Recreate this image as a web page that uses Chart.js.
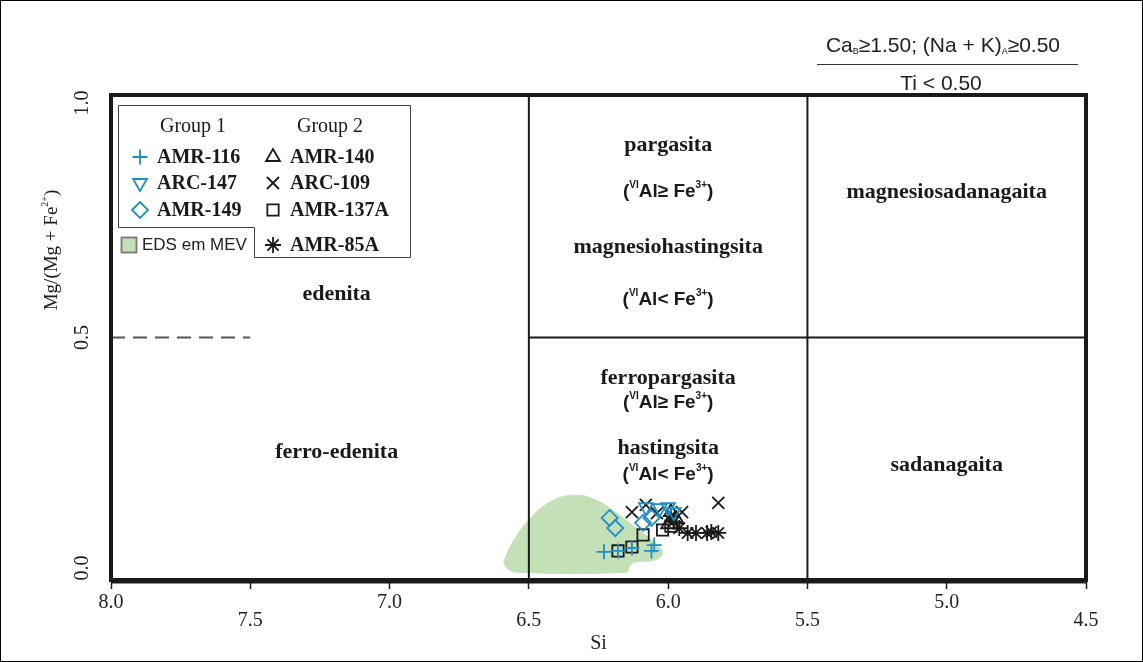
<!DOCTYPE html>
<html>
<head>
<meta charset="utf-8">
<title>Classificação de anfibólios cálcicos</title>
<script src="https://cdn.jsdelivr.net/npm/chart.js@4.4.1/dist/chart.umd.min.js"></script>
<style>
  html, body { margin: 0; padding: 0; background: #fff; }
  canvas { display: block; }
</style>
</head>
<body>
<canvas id="amphibole" width="1143" height="662"></canvas>
<script>
// axis ticks
const siTicks = [8.0, 7.5, 7.0, 6.5, 6.0, 5.5, 5.0, 4.5];
const mgTicks = [0.0, 0.5, 1.0];

// field boundaries
const siBoundaries = [6.5, 5.5];
const mgBoundary = 0.5;
const dashedSiEnd = 7.5;

// samples: [Si, Mg/(Mg + Fe2+)]
const amr116 = [[6.23, 0.058], [6.18, 0.060], [6.13, 0.066], [6.06, 0.060], [6.05, 0.072]];
const arc147 = [[6.08, 0.150], [6.03, 0.148], [6.00, 0.150], [5.98, 0.140]];
const amr149 = [[6.21, 0.128], [6.19, 0.107], [6.09, 0.118], [6.06, 0.128]];
const amr140 = [[5.99, 0.140], [5.97, 0.125], [6.00, 0.115]];
const arc109 = [[6.13, 0.140], [6.08, 0.155], [6.04, 0.138], [5.95, 0.140], [5.82, 0.159]];
const amr137a = [[6.18, 0.060], [6.13, 0.068], [6.09, 0.093], [6.02, 0.103], [5.99, 0.111]];
const amr85a = [[5.99, 0.132], [5.98, 0.120], [5.96, 0.107], [5.93, 0.097], [5.90, 0.097], [5.86, 0.097], [5.845, 0.099], [5.82, 0.097]];

// EDS (MEV) field outline
const edsSi = [6.59, 6.56, 6.49, 6.41, 6.33, 6.26, 6.19, 6.12, 6.05, 6.02, 6.05, 6.12, 6.14, 6.15, 6.54, 6.58, 6.59];
const edsMg = [0.037, 0.076, 0.130, 0.165, 0.175, 0.165, 0.140, 0.109, 0.078, 0.056, 0.041, 0.037, 0.027, 0.016, 0.016, 0.025, 0.037];

const serif = "'Liberation Serif', 'Times New Roman', serif";
const sans = "'Liberation Sans', Arial, sans-serif";
const blue = '#1f8fc8';
const ink = '#1a1a1a';
const green = '#c4e0b6';

function pts(arr) {
    return arr.map(p => ({x: p[0], y: p[1]}));
}

function sample(label, arr, color, style, radius, rotation) {
    return {
        label: label,
        data: pts(arr),
        order: 0,
        pointStyle: style,
        pointRadius: radius,
        pointRotation: rotation || 0,
        pointBorderColor: color,
        pointBackgroundColor: 'rgba(0,0,0,0)',
        pointBorderWidth: 1.8,
        showLine: false
    };
}

function boundary(data, dash, color) {
    return {
        data: data,
        order: 5,
        showLine: true,
        borderColor: color || ink,
        borderWidth: 2,
        borderDash: dash || [],
        pointRadius: 0
    };
}

// higher order is drawn underneath
const datasets = [
    {
        label: 'EDS em MEV',
        data: edsSi.map((s, i) => ({x: s, y: edsMg[i]})),
        order: 10,
        showLine: true,
        tension: 0.4,
        borderColor: green,
        borderWidth: 1,
        backgroundColor: green,
        fill: 'shape',
        pointRadius: 0
    }
];
siBoundaries.forEach(v => datasets.push(boundary([{x: v, y: 0}, {x: v, y: 1}])));
datasets.push(boundary([{x: siBoundaries[0], y: mgBoundary}, {x: 4.5, y: mgBoundary}]));
datasets.push(boundary([{x: 8.0, y: mgBoundary}, {x: dashedSiEnd, y: mgBoundary}], [14, 8], '#555'));

const samples = [
    sample('AMR-116', amr116, blue, 'cross', 7.5),
    sample('ARC-147', arc147, blue, 'triangle', 8, 180),
    sample('AMR-149', amr149, blue, 'rectRot', 8),
    sample('AMR-140', amr140, ink, 'triangle', 8),
    sample('ARC-109', arc109, ink, 'crossRot', 8.5),
    sample('AMR-137A', amr137a, ink, 'rect', 8),
    sample('AMR-85A', amr85a, ink, 'star', 8)
];
samples.forEach(s => datasets.push(s));

// text with super/subscripts, parts = [text, font, dy]
function richText(ctx, parts, x, y, align) {
    let w = 0;
    parts.forEach(p => { ctx.font = p[1]; w += ctx.measureText(p[0]).width; });
    let cx = align === 'left' ? x : x - w / 2;
    ctx.textAlign = 'left';
    ctx.textBaseline = 'middle';
    parts.forEach(p => {
        ctx.font = p[1];
        ctx.fillText(p[0], cx, y + (p[2] || 0));
        cx += ctx.measureText(p[0]).width;
    });
}

function alNote(op) {
    const b = 'bold 19px ' + sans, s = 'bold 10px ' + sans;
    return [['(', b], ['VI', s, -7], ['Al' + op + ' Fe', b], ['3+', s, -7], [')', b]];
}

const fieldLabels = [
    ['edenita', 7.19, 0.59], ['ferro-edenita', 7.19, 0.264],
    ['pargasita', 6.0, 0.897], ['magnesiohastingsita', 6.0, 0.685],
    ['ferropargasita', 6.0, 0.416], ['hastingsita', 6.0, 0.272],
    ['magnesiosadanagaita', 5.0, 0.80], ['sadanagaita', 5.0, 0.237]
];
const alLabels = [['≥', 6.0, 0.80], ['<', 6.0, 0.577], ['≥', 6.0, 0.365], ['<', 6.0, 0.216]];

const background = {
    id: 'background',
    beforeDraw(chart) {
        const ctx = chart.ctx;
        ctx.save();
        ctx.fillStyle = '#fff';
        ctx.fillRect(0, 0, chart.width, chart.height);
        ctx.restore();
    }
};

const decorations = {
    id: 'decorations',
    afterDraw(chart) {
        const ctx = chart.ctx;
        const xs = chart.scales.x, ys = chart.scales.y;
        const a = chart.chartArea;
        ctx.save();

        // outer border + plot frame
        ctx.strokeStyle = '#000';
        ctx.lineWidth = 1;
        ctx.strokeRect(0.5, 0.5, chart.width - 1, chart.height - 1);
        ctx.strokeStyle = ink;
        ctx.lineWidth = 4;
        ctx.strokeRect(a.left, a.top, a.right - a.left, a.bottom - a.top);
        ctx.lineWidth = 2;
        ctx.beginPath();
        ctx.moveTo(a.left, a.bottom + 2.5);
        ctx.lineTo(a.right, a.bottom + 2.5);
        ctx.stroke();

        // field names
        ctx.fillStyle = ink;
        fieldLabels.forEach(f => {
            richText(ctx, [[f[0], 'bold 22px ' + serif]], xs.getPixelForValue(f[1]), ys.getPixelForValue(f[2]));
        });
        alLabels.forEach(f => {
            richText(ctx, alNote(f[0]), xs.getPixelForValue(f[1]), ys.getPixelForValue(f[2]));
        });

        // y ticks, rotated
        ctx.font = '20px ' + serif;
        ctx.textAlign = 'center';
        ctx.textBaseline = 'middle';
        mgTicks.forEach(v => {
            let py = ys.getPixelForValue(v);
            if (v === 1) py += 8;
            if (v === 0) py -= 12;
            ctx.save();
            ctx.translate(83, py);
            ctx.rotate(-Math.PI / 2);
            ctx.fillText(v.toFixed(1), 0, 0);
            ctx.restore();
        });

        // y title
        ctx.save();
        ctx.translate(52, 250);
        ctx.rotate(-Math.PI / 2);
        richText(ctx, [['Mg/(Mg + Fe', '19px ' + serif], ['2+', '10px ' + serif, -7], [')', '19px ' + serif]], 0, 0);
        ctx.restore();

        // header conditions
        ctx.fillStyle = '#222';
        richText(ctx, [['Ca', '21px ' + sans], ['B', '9px ' + sans, 6], ['≥1.50; (Na + K)', '21px ' + sans],
            ['A', '9px ' + sans, 6], ['≥0.50', '21px ' + sans]], 943, 46);
        ctx.strokeStyle = '#333';
        ctx.lineWidth = 1.2;
        ctx.beginPath();
        ctx.moveTo(817, 64.5);
        ctx.lineTo(1078, 64.5);
        ctx.stroke();
        richText(ctx, [['Ti < 0.50', '21px ' + sans]], 941, 84);

        // legend box
        ctx.strokeStyle = '#444';
        ctx.lineWidth = 1;
        ctx.fillStyle = '#fff';
        ctx.beginPath();
        ctx.moveTo(118.5, 105.5);
        ctx.lineTo(410.5, 105.5);
        ctx.lineTo(410.5, 257.5);
        ctx.lineTo(254.5, 257.5);
        ctx.lineTo(254.5, 227.5);
        ctx.lineTo(118.5, 227.5);
        ctx.closePath();
        ctx.fill();
        ctx.stroke();

        ctx.fillStyle = ink;
        richText(ctx, [['Group 1', '20px ' + serif]], 193, 127);
        richText(ctx, [['Group 2', '20px ' + serif]], 330, 127);
        const rows = [157, 183, 210, 245];
        samples.forEach((s, i) => {
            const col = i < 3 ? 0 : 1;
            const row = i < 3 ? i : i - 3;
            const sx = col ? 273 : 140;
            const sy = rows[row];
            ctx.strokeStyle = s.pointBorderColor;
            ctx.fillStyle = 'rgba(0,0,0,0)';
            ctx.lineWidth = 1.8;
            Chart.helpers.drawPoint(ctx, {pointStyle: s.pointStyle, radius: s.pointRadius, rotation: s.pointRotation, borderWidth: 1.8}, sx, sy);
            ctx.fillStyle = ink;
            richText(ctx, [[s.label, 'bold 20px ' + serif]], sx + 17, sy + 1, 'left');
        });
        ctx.fillStyle = green;
        ctx.strokeStyle = '#777';
        ctx.fillRect(121, 237, 15, 15);
        ctx.strokeRect(121.5, 237.5, 15, 15);
        ctx.fillStyle = '#222';
        richText(ctx, [['EDS em MEV', '17px ' + sans]], 142, 245, 'left');

        ctx.restore();
    }
};

new Chart(document.getElementById('amphibole'), {
    type: 'scatter',
    data: {datasets: datasets},
    options: {
        responsive: false,
        animation: false,
        events: [],
        layout: {padding: {top: 95, right: 57, bottom: 0, left: 0}},
        plugins: {legend: {display: false}, tooltip: {enabled: false}},
        scales: {
            x: {
                type: 'linear',
                min: 4.5,
                max: 8.0,
                reverse: true,
                afterFit: s => { s.height = 82; },
                afterBuildTicks: s => { s.ticks = siTicks.map(v => ({value: v})); },
                border: {display: false},
                grid: {drawOnChartArea: false, drawTicks: true, tickLength: 9, tickWidth: 1.5, tickColor: ink},
                ticks: {
                    autoSkip: false,
                    maxRotation: 0,
                    padding: 5,
                    color: '#222',
                    font: {family: serif, size: 20, lineHeight: 0.9},
                    callback: v => Math.abs(v - Math.round(v)) < 1e-6 ? v.toFixed(1) : ['', v.toFixed(1)]
                },
                title: {display: true, text: 'Si', color: '#222', font: {family: serif, size: 20}, padding: {top: 0, bottom: 6}}
            },
            y: {
                type: 'linear',
                min: 0,
                max: 1,
                afterFit: s => { s.width = 111; },
                border: {display: false},
                grid: {display: false},
                ticks: {display: false}
            }
        }
    },
    plugins: [background, decorations]
});
</script>
</body>
</html>
